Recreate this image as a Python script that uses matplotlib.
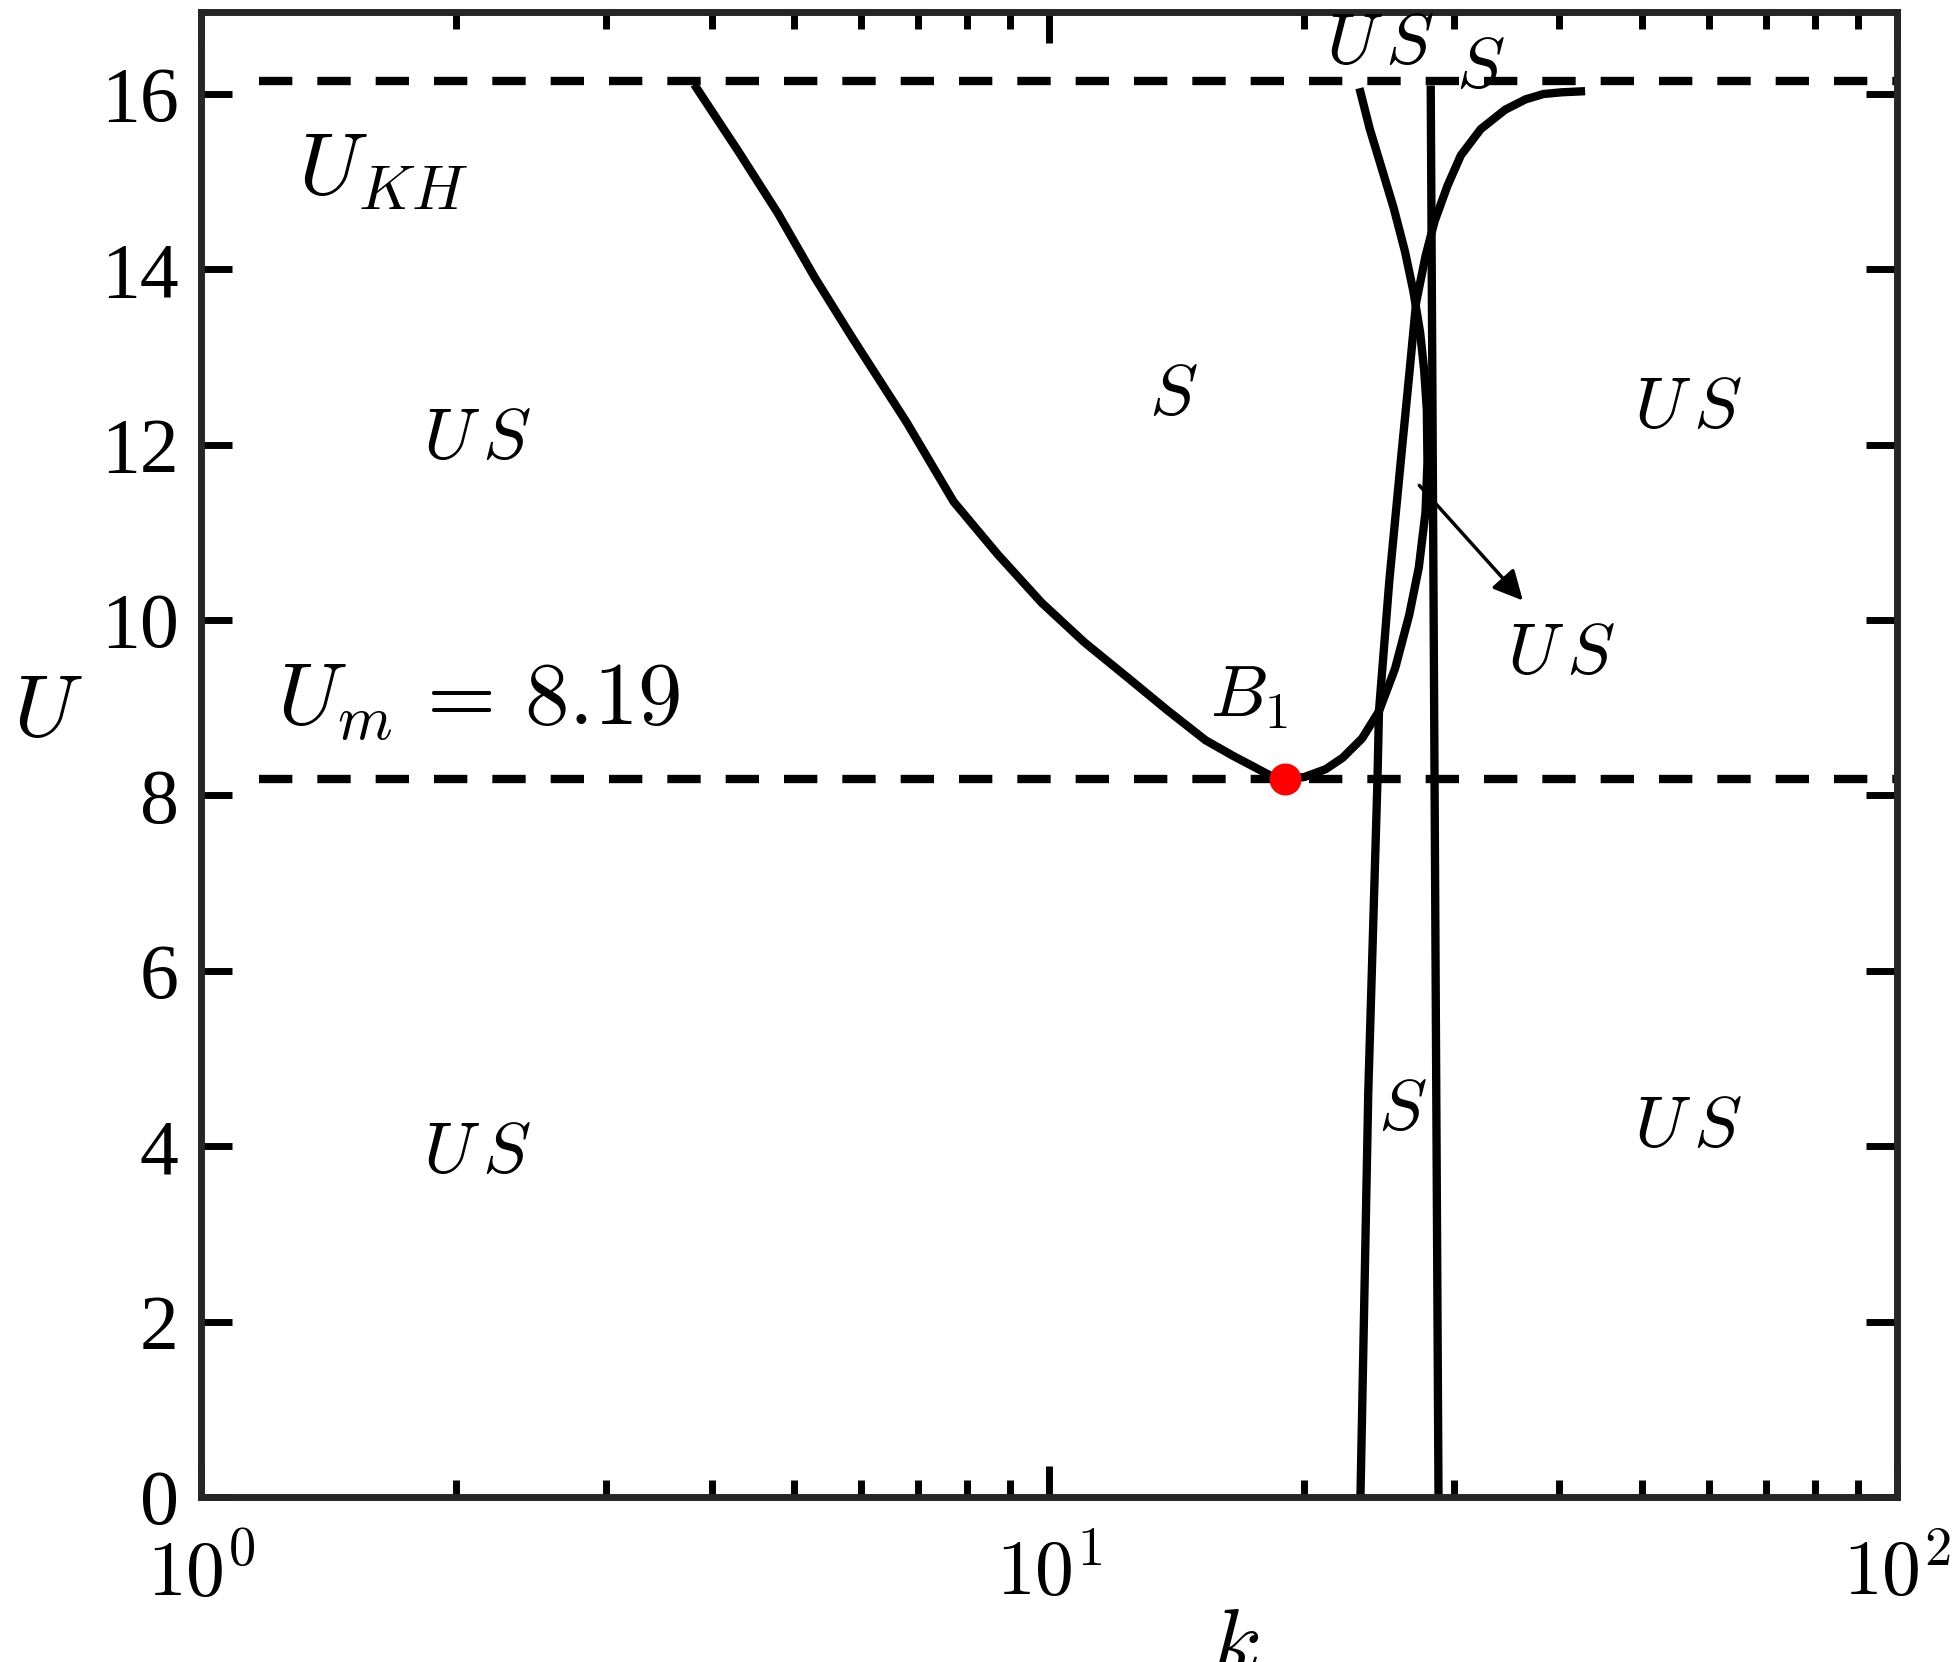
import matplotlib
matplotlib.use("Agg")
import matplotlib.pyplot as plt
import numpy as np

plt.rcParams['font.family'] = 'Liberation Serif'
plt.rcParams['mathtext.fontset'] = 'cm'

# neutral curve (U-shaped branch, bends back near k~28)
k_curve = [3.84, 4.3, 4.79, 5.3, 5.88, 6.8, 7.72, 8.7, 9.8, 11.0, 12.4, 13.8, 15.3, 16.5, 17.5, 18.3, 19.0, 20.0,
           21.2, 22.2, 23.4, 24.5, 25.6, 26.6, 27.3, 27.8, 27.95, 27.9, 27.7, 27.4, 26.9, 26.3, 25.5, 24.6, 23.9, 23.3]
u_curve = [16.07, 15.35, 14.64, 13.9, 13.2, 12.25, 11.35, 10.75, 10.2, 9.75, 9.34, 8.97, 8.63, 8.45, 8.32, 8.22, 8.19, 8.21,
           8.3, 8.43, 8.65, 8.96, 9.45, 10.06, 10.6, 11.23, 11.8, 12.4, 12.85, 13.28, 13.75, 14.2, 14.7, 15.2, 15.6, 16.02]
# second neutral curve rising from the bottom
k_a = [23.3, 23.55, 23.8, 24.1, 24.4, 24.5, 25.2, 26.0, 26.6, 27.1, 27.8, 28.5, 29.5, 30.6, 32.3, 34.5, 36.5, 38.3, 40.3, 42.4]
u_a = [0.0, 2.3, 4.62, 6.4, 8.17, 8.96, 10.45, 11.82, 12.8, 13.62, 14.15, 14.55, 14.95, 15.3, 15.6, 15.82, 15.94, 16.0, 16.02, 16.03]
# near-vertical line
k_v = [28.8, 28.2]
u_v = [0.0, 16.05]

U_KH = 16.15
U_m = 8.19
k_m = 19.0

fig = plt.figure(figsize=(19.57, 16.62), dpi=100)
ax = fig.add_axes([0.1027, 0.0993, 0.8666, 0.8932])

ax.plot(k_curve, u_curve, color='black', lw=6)
ax.plot(k_a, u_a, color='black', lw=6)
ax.plot(k_v, u_v, color='black', lw=6)
ax.plot([1.17, 100], [U_KH, U_KH], color='black', lw=6, dashes=(4, 3))
ax.plot([1.17, 100], [U_m, U_m], color='black', lw=6, dashes=(4, 3))
ax.plot(k_m, U_m, 'o', color='red', ms=22)

ax.set_xscale('log')
ax.set_xlim(1, 100)
ax.set_ylim(0, 16.93)
ax.set_yticks(np.arange(0, 17, 2))
ax.set_xticks([1, 10, 100])
ax.set_xticklabels([r'$10^0$', r'$10^1$', r'$10^2$'])
ax.tick_params(which='both', direction='in', top=True, right=True, labelsize=56, width=5)
ax.tick_params(axis='x', pad=30)
ax.tick_params(axis='y', pad=16)
ax.tick_params(which='major', length=22)
ax.tick_params(which='minor', length=12)
for s in ax.spines.values():
    s.set_linewidth(5)
    s.set_color('#262626')

ax.set_xlabel(r'$k$', fontsize=64)
ax.xaxis.set_label_coords(0.61, -0.075)
ax.set_ylabel(r'$U$', fontsize=64, rotation=0)
ax.yaxis.set_label_coords(-0.09, 0.5)

fs = 52
ax.text(1.30, 15.1, r'$U_{KH}$', fontsize=64, ha='left', va='center')
ax.text(1.23, 9.05, r'$U_m\,=\,8.19$', fontsize=64, ha='left', va='center')
ax.text(17.2, 9.1, r'$B_1$', fontsize=fs, ha='center', va='center')
ax.text(14.0, 12.55, r'$S$', fontsize=fs, ha='center', va='center')
ax.text(2.12, 12.05, r'$U\,S$', fontsize=fs, ha='center', va='center')
ax.text(2.12, 3.9, r'$U\,S$', fontsize=fs, ha='center', va='center')
ax.text(56.8, 12.4, r'$U\,S$', fontsize=fs, ha='center', va='center')
ax.text(56.8, 4.2, r'$U\,S$', fontsize=fs, ha='center', va='center')
ax.text(40.2, 9.6, r'$U\,S$', fontsize=fs, ha='center', va='center')
ax.text(26.1, 4.4, r'$S$', fontsize=fs, ha='center', va='center')
ax.text(24.6, 16.55, r'$U\,S$', fontsize=fs, ha='center', va='center')
ax.text(32.3, 16.28, r'$S$', fontsize=fs, ha='center', va='center')
ax.annotate('', xy=(36.4, 10.2), xytext=(27.2, 11.56),
            arrowprops=dict(arrowstyle='-|>', color='black', lw=2.5, mutation_scale=45))

fig.savefig('out.png', dpi=100)
